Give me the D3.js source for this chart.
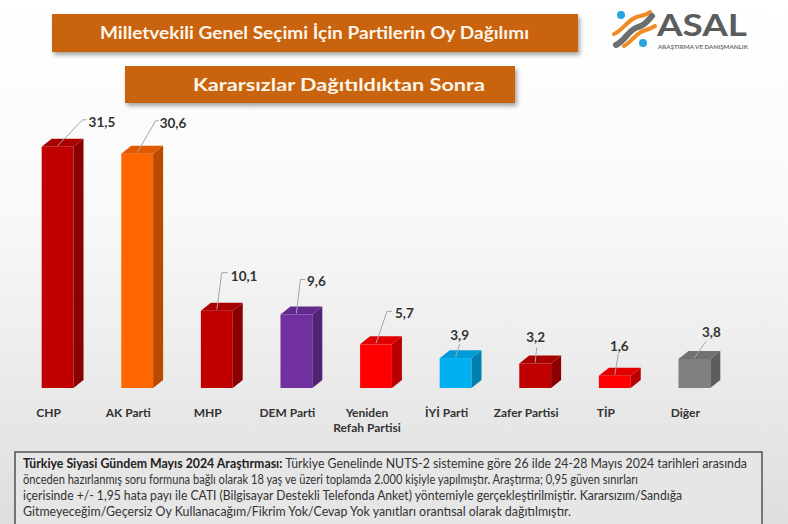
<!DOCTYPE html>
<html><head><meta charset="utf-8">
<script src="https://cdn.jsdelivr.net/npm/d3@7"></script>
<style>html,body{margin:0;padding:0;background:#fff;} svg{display:block}</style>
</head><body><svg id="c" width="788" height="524"></svg>
<script>
// ---------- data ----------
const categories = ["CHP","AK Parti","MHP","DEM Parti","Yeniden\nRefah Partisi","İYİ Parti","Zafer Partisi","TİP","Diğer"];
const values = [31.5,30.6,10.1,9.6,5.7,3.9,3.2,1.6,3.8];
const valueLabels = ["31,5","30,6","10,1","9,6","5,7","3,9","3,2","1,6","3,8"];
const titleText = "Milletvekili Genel Seçimi İçin Partilerin Oy Dağılımı";
const subtitleText = "Kararsızlar Dağıtıldıktan Sonra";
const noteBold = "Türkiye Siyasi Gündem Mayıs 2024 Araştırması:";
const noteLines = [
  " Türkiye Genelinde NUTS-2 sistemine göre 26 ilde 24-28 Mayıs 2024 tarihleri arasında",
  "önceden hazırlanmış soru formuna bağlı olarak 18 yaş ve üzeri toplamda 2.000 kişiyle yapılmıştır. Araştırma; 0,95 güven sınırları",
  "içerisinde +/- 1,95 hata payı ile CATI (Bilgisayar Destekli Telefonda Anket) yöntemiyle gerçekleştirilmiştir. Kararsızım/Sandığa",
  "Gitmeyeceğim/Geçersiz Oy Kullanacağım/Fikrim Yok/Cevap Yok yanıtları orantısal olarak dağıtılmıştır."
];

// ---------- styles / layout ----------
const barColors = ["#c00000","#ff6600","#c00000","#7030a0","#ff0000","#00b0f0","#c00000","#ff0000","#808080"];
const labelLayout = [
  {lx:25, ly:-27, elbow:4, tx:31, ty:-25, anchor:"start"},
  {lx:18.5, ly:-33, elbow:3, tx:22.5, ty:-31, anchor:"start"},
  {lx:5, ly:-38, elbow:6, tx:14, ty:-35, anchor:"start"},
  {lx:4, ly:-35, elbow:5, tx:10.5, ty:-33, anchor:"start"},
  {lx:11, ly:-33, elbow:5, tx:19, ty:-31, anchor:"start"},
  {lx:4, ly:-14, elbow:0, tx:4, ty:-23, anchor:"middle"},
  {lx:1.5, ly:-16, elbow:0, tx:0.5, ty:-26.5, anchor:"middle"},
  {lx:3.5, ly:-22, elbow:0, tx:4.5, ty:-30, anchor:"middle"},
  {lx:12, ly:-18, elbow:0, tx:17, ty:-27, anchor:"middle"}
];
const noteLengths = [724, 615, 659, 548];

const svg = d3.select("#c");
const defs = svg.append("defs");
const bg = defs.append("linearGradient").attr("id","bg").attr("x1",0).attr("y1",0).attr("x2",0).attr("y2",1);
bg.append("stop").attr("offset","0%").attr("stop-color","#ffffff");
bg.append("stop").attr("offset","40%").attr("stop-color","#f9f9f9");
bg.append("stop").attr("offset","100%").attr("stop-color","#dedede");
const sh = defs.append("filter").attr("id","sh").attr("x","-5%").attr("y","-20%").attr("width","115%").attr("height","160%");
sh.append("feDropShadow").attr("dx",2).attr("dy",3).attr("stdDeviation",2).attr("flood-color","#000").attr("flood-opacity",0.35);

svg.append("rect").attr("width",788).attr("height",524).attr("fill","url(#bg)");

// title boxes
svg.append("rect").attr("x",52).attr("y",14).attr("width",526).attr("height",38).attr("fill","#c9640f").attr("filter","url(#sh)");
svg.append("text").attr("x",100).attr("y",39).attr("textLength",429).attr("lengthAdjust","spacingAndGlyphs")
  .attr("font-family","Lato").attr("font-weight","bold").attr("font-size",16.5).attr("fill","#fdf4ea").text(titleText);
svg.append("rect").attr("x",125).attr("y",66).attr("width",390).attr("height",37).attr("fill","#c9640f").attr("filter","url(#sh)");
svg.append("text").attr("x",193).attr("y",91).attr("textLength",292).attr("lengthAdjust","spacingAndGlyphs")
  .attr("font-family","Lato").attr("font-weight","bold").attr("font-size",16.5).attr("fill","#fdf4ea").text(subtitleText);

// logo
const logo = svg.append("g");
logo.append("path").attr("d","M614,34 C624,30 628,18 640,16 C645,15 648,14 650,12").attr("fill","none").attr("stroke","#f08a24").attr("stroke-width",4).attr("stroke-linecap","round");
logo.append("path").attr("d","M624,46 C632,42 636,32 646,30 C650,29 652,28 655,26").attr("fill","none").attr("stroke","#f08a24").attr("stroke-width",4).attr("stroke-linecap","round");
logo.append("path").attr("d","M616,45 C626,40 628,30 638,27 C646,25 648,20 652,16").attr("fill","none").attr("stroke","#6d6e70").attr("stroke-width",6).attr("stroke-linecap","round");
logo.append("circle").attr("cx",621).attr("cy",15).attr("r",4).attr("fill","#2aa4e0");
logo.append("circle").attr("cx",643).attr("cy",43).attr("r",4).attr("fill","#2aa4e0");
logo.append("text").attr("x",657).attr("y",36).attr("textLength",90).attr("lengthAdjust","spacingAndGlyphs")
  .attr("font-family","Lato").attr("font-weight","bold").attr("font-size",31).attr("fill","#5b5c5e").text("ASAL");
logo.append("text").attr("x",658).attr("y",49).attr("textLength",90).attr("lengthAdjust","spacingAndGlyphs")
  .attr("font-family","Lato").attr("font-weight","bold").attr("font-size",5.5).attr("fill","#6d6e70").text("ARAŞTIRMA VE DANIŞMANLIK");

// scales
const x = d3.scaleBand().domain(categories).range([17.8,734.2]).paddingInner(0.6).paddingOuter(0.3);
const y = d3.scaleLinear().domain([0,35]).range([388,120]);
const bw = x.bandwidth(), dX = 10, dY = 8;

const data = categories.map((c,i)=>({c, v:values[i], lab:valueLabels[i], col:barColors[i], L:labelLayout[i]}));
const bars = svg.append("g").selectAll("g").data(data).join("g");
bars.append("rect").attr("x",d=>x(d.c)).attr("y",d=>y(d.v)).attr("width",bw).attr("height",d=>y(0)-y(d.v)).attr("fill",d=>d.col);
bars.append("polygon").attr("points",d=>{
  const x1=x(d.c)+bw, yt=y(d.v), yb=y(0);
  return [[x1,yt],[x1+dX,yt-dY],[x1+dX,yb-dY],[x1,yb]].join(" ");
}).attr("fill",d=>d3.color(d.col).darker(0.9));
bars.append("polygon").attr("points",d=>{
  const x0=x(d.c), x1=x0+bw, yt=y(d.v);
  return [[x0,yt],[x0+dX,yt-dY],[x1+dX,yt-dY],[x1,yt]].join(" ");
}).attr("fill",d=>d3.color(d.col).darker(0.35));

// leader lines + value labels
bars.append("polyline").attr("points",d=>{
  const cx=x(d.c)+bw/2, yt=y(d.v), L=d.L;
  const pts=[[cx,yt-1],[cx+L.lx,yt+L.ly]];
  if(L.elbow) pts.push([cx+L.lx+L.elbow,yt+L.ly]);
  return pts.join(" ");
}).attr("fill","none").attr("stroke","#a6a6a6").attr("stroke-width",1);
bars.append("text").attr("x",d=>x(d.c)+bw/2+d.L.tx).attr("y",d=>y(d.v)+d.L.ty)
  .attr("text-anchor",d=>d.L.anchor).attr("dominant-baseline","central")
  .attr("font-family","Lato").attr("font-weight","bold").attr("font-size",13.5).attr("fill","#333")
  .text(d=>d.lab);

// category labels
const cl = svg.append("g").selectAll("text").data(categories).join("text")
  .attr("x",c=>x(c)+bw/2-9).attr("y",417).attr("text-anchor","middle")
  .attr("font-family","Lato").attr("font-weight","bold").attr("font-size",12).attr("fill","#333");
cl.selectAll("tspan").data(c=>c.split("\n").map((t,j)=>({t,j,c}))).join("tspan")
  .attr("x",d=>x(d.c)+bw/2-9).attr("dy",d=>d.j?15:0).text(d=>d.t);

// footnote
svg.append("rect").attr("x",15).attr("y",452).attr("width",747).attr("height",90)
  .attr("fill","#e6e6e6").attr("stroke","#505050").attr("stroke-width",1.5);
const note = svg.append("g").attr("font-family","Lato").attr("font-size",12.5).attr("fill","#333");
noteLines.forEach((ln,i)=>{
  const t = note.append("text").attr("x",23).attr("y",468+i*16).attr("textLength",noteLengths[i]).attr("lengthAdjust","spacingAndGlyphs");
  if(i===0){ t.append("tspan").attr("font-weight","bold").attr("fill","#222").text(noteBold); }
  t.append("tspan").text(ln);
});
</script></body></html>
